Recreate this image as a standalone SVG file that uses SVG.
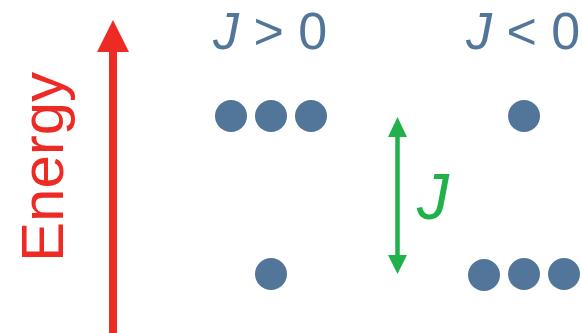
<svg xmlns="http://www.w3.org/2000/svg" width="582" height="333" viewBox="0 0 582 333">
  <style>
    .lbl { font-family: "Liberation Sans", Arial, sans-serif; fill: #52769a; font-size: 52px; }
    .it { font-style: italic; }
    .dot { fill: #52769a; }
  </style>
  <rect width="582" height="333" fill="#ffffff"/>

  <!-- energy axis -->
  <g id="energy-axis">
    <line x1="113" y1="50" x2="113" y2="333" stroke="#ee2a24" stroke-width="8"/>
    <polygon points="113,20 97,52 129,52" fill="#ee2a24"/>
    <text transform="translate(63,262) rotate(-90)" font-family="Liberation Sans, Arial, sans-serif" font-size="60" fill="#ee2a24">Energy</text>
  </g>

  <!-- J > 0 column -->
  <g id="ferro">
    <text class="lbl" x="213" y="49"><tspan class="it">J</tspan> &gt; 0</text>
    <circle class="dot" cx="231" cy="116" r="16"/>
    <circle class="dot" cx="271" cy="116" r="16"/>
    <circle class="dot" cx="311" cy="116" r="16"/>
    <circle class="dot" cx="271" cy="274" r="16"/>
  </g>

  <!-- J < 0 column -->
  <g id="antiferro">
    <text class="lbl" x="466" y="49"><tspan class="it">J</tspan> &lt; 0</text>
    <circle class="dot" cx="524" cy="116" r="16"/>
    <circle class="dot" cx="484" cy="275" r="16"/>
    <circle class="dot" cx="524" cy="274" r="16"/>
    <circle class="dot" cx="564" cy="274" r="16"/>
  </g>

  <!-- splitting J -->
  <g id="connectors">
    <line x1="397.5" y1="134" x2="397.5" y2="258" stroke="#21b14b" stroke-width="4.5"/>
    <polygon points="397.5,117 388,137 407,137" fill="#21b14b"/>
    <polygon points="397.5,274 388,255 407,255" fill="#21b14b"/>
    <text x="417" y="219" font-family="Liberation Sans, Arial, sans-serif" font-size="64" font-style="italic" fill="#21b14b">J</text>
  </g>
</svg>
